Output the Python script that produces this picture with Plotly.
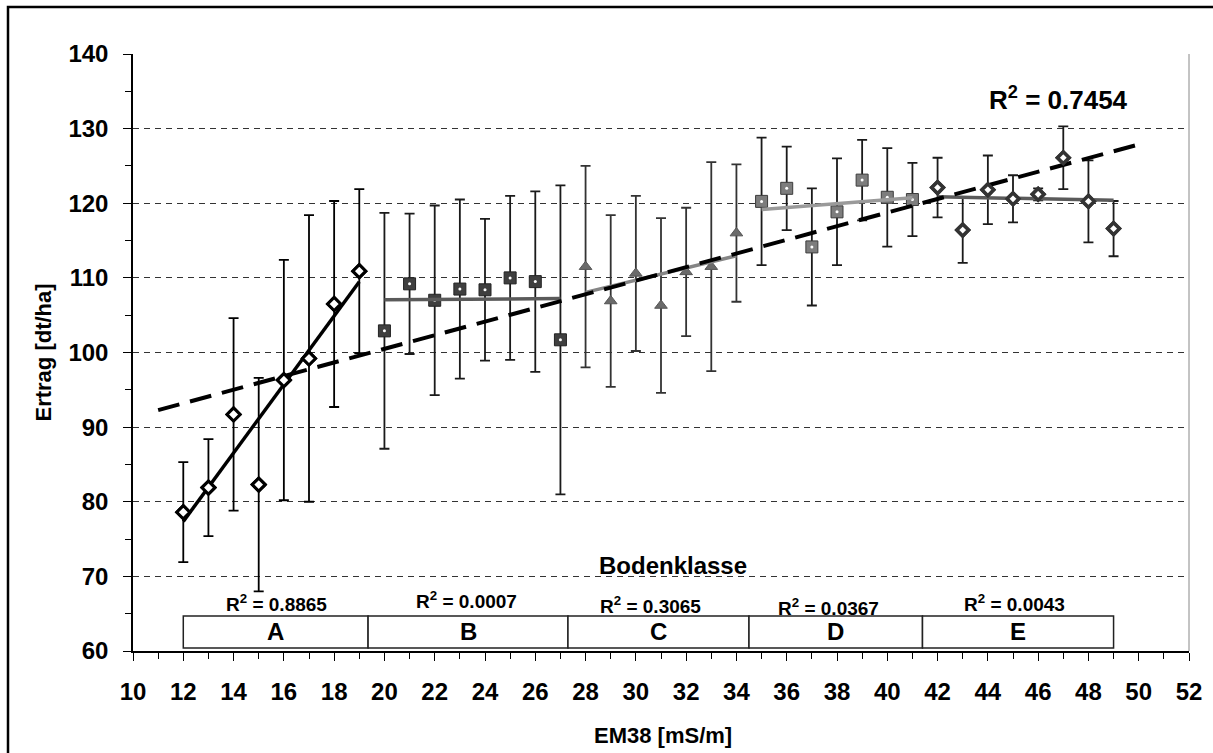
import numpy as np
import plotly.graph_objects as go

# ---- data ----
x_a = [12, 13, 14, 15, 16, 17, 18, 19]
y_a = [78.6, 81.9, 91.7, 82.3, 96.3, 99.2, 106.5, 110.9]
e_a = [6.7, 6.5, 12.9, 14.3, 16.1, 19.2, 13.8, 11.0]

x_b = [20, 21, 22, 23, 24, 25, 26, 27]
y_b = [102.9, 109.2, 107.0, 108.5, 108.4, 110.0, 109.5, 101.7]
e_b = [15.8, 9.4, 12.7, 12.0, 9.5, 11.0, 12.1, 20.7]

x_c = [28, 29, 30, 31, 32, 33, 34]
y_c = [111.5, 106.9, 110.6, 106.3, 110.8, 111.5, 116.0]
e_c = [13.5, 11.5, 10.4, 11.7, 8.6, 14.0, 9.2]

x_d = [35, 36, 37, 38, 39, 40, 41]
y_d = [120.25, 122.0, 114.15, 118.85, 123.1, 120.8, 120.5]
e_d = [8.55, 5.6, 7.85, 7.15, 5.4, 6.6, 4.9]

x_e = [42, 43, 44, 45, 46, 47, 48, 49]
y_e = [122.1, 116.4, 121.8, 120.6, 121.2, 126.1, 120.25, 116.6]
e_e = [4.0, 4.4, 4.6, 3.15, 0.8, 4.2, 5.5, 3.7]

classes = ["A", "B", "C", "D", "E"]
class_edges = [12, 19.35, 27.3, 34.5, 41.4, 49.0]
class_r2 = ["0.8865", "0.0007", "0.3065", "0.0367", "0.0043"]
r2_label_x = [15.7, 23.27, 30.6, 37.67, 45.07]
r2_label_y = [66.4, 66.8, 66.1, 65.9, 66.4]
overall_r2 = "0.7454"
overall_range = [11, 50]

x_ticks = list(range(10, 53, 2))
y_ticks = list(range(60, 141, 10))

FONT = "Liberation Sans, Arial, sans-serif"


def bold(size):
    return dict(size=size, color="black", family=FONT, weight="bold")


fig = go.Figure()

groups = [
    # x, y, err, symbol, size, fill, outline, outline width, err color, line color, dot
    (x_a, y_a, e_a, "diamond", 10, "white", "black", 3, "black", "black", False),
    (x_b, y_b, e_b, "square", 12, "#3f3f3f", "#222222", 1, "#1a1a1a", "#5a5a5a", True),
    (x_c, y_c, e_c, "triangle-up", 11, "#6a6a6a", "#555555", 1, "#333333", "#858585", False),
    (x_d, y_d, e_d, "square", 12, "#7d7d7d", "#3c3c3c", 1, "#1a1a1a", "#9a9a9a", True),
    (x_e, y_e, e_e, "diamond", 9, "white", "#333333", 3.5, "#1a1a1a", "#5a5a5a", False),
]

for xs, ys, es, sym, sz, fill, oc, ow, ec, lc, dot in groups:
    fig.add_trace(go.Scatter(
        x=xs, y=ys, mode="markers",
        marker=dict(symbol=sym, size=sz, color=fill, line=dict(color=oc, width=ow)),
        error_y=dict(type="data", array=es, visible=True, color=ec, thickness=1.8, width=5),
        showlegend=False, hoverinfo="skip"))
    if dot:
        fig.add_trace(go.Scatter(x=xs, y=ys, mode="markers",
                                 marker=dict(symbol="circle", size=3, color="white"),
                                 showlegend=False, hoverinfo="skip"))

# group regression lines
for xs, ys, es, sym, sz, fill, oc, ow, ec, lc, dot in groups:
    k, d = np.polyfit(xs, ys, 1)
    xx = np.array([xs[0], xs[-1]], dtype=float)
    fig.add_trace(go.Scatter(x=xx, y=k * xx + d, mode="lines",
                             line=dict(color=lc, width=3.5),
                             showlegend=False, hoverinfo="skip"))

# overall regression (dashed)
all_x = np.concatenate([x_a, x_b, x_c, x_d, x_e]).astype(float)
all_y = np.concatenate([y_a, y_b, y_c, y_d, y_e]).astype(float)
k, d = np.polyfit(all_x, all_y, 1)
xx = np.array(overall_range, dtype=float)
fig.add_trace(go.Scatter(x=xx, y=k * xx + d, mode="lines",
                         line=dict(color="black", width=4, dash="22px,11px"),
                         showlegend=False, hoverinfo="skip"))

# redraw diamonds on top of lines
for xs, ys, es, sym, sz, fill, oc, ow, ec, lc, dot in (groups[0], groups[4]):
    fig.add_trace(go.Scatter(
        x=xs, y=ys, mode="markers",
        marker=dict(symbol=sym, size=sz, color=fill, line=dict(color=oc, width=ow)),
        showlegend=False, hoverinfo="skip"))

shapes = []
annotations = []
# soil class boxes
for i, c in enumerate(classes):
    x0, x1 = class_edges[i], class_edges[i + 1]
    shapes.append(dict(type="rect", xref="x", yref="y", x0=x0, x1=x1, y0=60.4, y1=64.7,
                       line=dict(color="#222222", width=1.5), fillcolor="white", layer="above"))
    annotations.append(dict(x=(x0 + x1) / 2, y=62.55, xref="x", yref="y", text=c,
                            xanchor="center", yanchor="middle",
                            showarrow=False, font=bold(24)))
    annotations.append(dict(x=r2_label_x[i], y=r2_label_y[i], xref="x", yref="y",
                            text=f"R<sup>2</sup> = {class_r2[i]}",
                            xanchor="center", yanchor="middle",
                            showarrow=False, font=bold(19)))

annotations.append(dict(x=31.47, y=71.5, xref="x", yref="y", text="Bodenklasse",
                        xanchor="center", yanchor="middle",
                        showarrow=False, font=bold(24)))
annotations.append(dict(x=46.8, y=134.1, xref="x", yref="y",
                        text=f"R<sup>2</sup> = {overall_r2}",
                        xanchor="center", yanchor="middle",
                        showarrow=False, font=bold(26)))
# axis titles
annotations.append(dict(x=(43 - 133) / 1056, y=0.5, xref="paper", yref="paper",
                        xanchor="center", yanchor="middle",
                        text="Ertrag [dt/ha]", textangle=-90, showarrow=False,
                        font=bold(22)))
annotations.append(dict(x=(663 - 133) / 1056, y=(651 - 735) / 597, xref="paper", yref="paper",
                        xanchor="center", yanchor="middle",
                        text="EM38 [mS/m]", showarrow=False,
                        font=bold(22)))

# right border of plot area
shapes.append(dict(type="line", xref="paper", yref="paper", x0=1, x1=1, y0=0, y1=1,
                   line=dict(color="#888888", width=1)))
# outer frame
shapes.append(dict(type="rect", xref="paper", yref="paper",
                   x0=(8 - 133) / 1056, x1=1.1, y0=-0.3, y1=(651 - 7) / 597,
                   line=dict(color="black", width=2.5), fillcolor="rgba(0,0,0,0)"))

fig.update_layout(
    width=1213, height=753,
    margin=dict(l=133, r=24, t=54, b=102),
    paper_bgcolor="white", plot_bgcolor="white",
    font=dict(family=FONT, color="black"),
    shapes=shapes, annotations=annotations,
    showlegend=False,
)
fig.update_xaxes(
    range=[10, 52], tickvals=x_ticks, ticktext=[str(v) for v in x_ticks],
    ticks="outside", ticklen=8, tickwidth=1, tickcolor="black",
    minor=dict(dtick=1, tick0=10, ticks="outside", ticklen=6, tickcolor="black", showgrid=False),
    showline=True, linecolor="black", linewidth=1.5, showgrid=False, zeroline=False,
    tickfont=bold(24), ticklabelstandoff=10,
)
fig.update_yaxes(
    range=[60, 140], tickvals=y_ticks, ticktext=[str(v) for v in y_ticks],
    ticks="outside", ticklen=8, tickwidth=1, tickcolor="black",
    minor=dict(dtick=5, tick0=60, ticks="outside", ticklen=6, tickcolor="black", showgrid=False),
    showline=True, linecolor="black", linewidth=1.5,
    showgrid=True, gridcolor="#333333", gridwidth=1, griddash="6px,5px", zeroline=False,
    tickfont=bold(24), ticklabelstandoff=10,
)

fig.write_html("out.html", config={"displayModeBar": False},
               post_script="document.body.style.margin='0';")
